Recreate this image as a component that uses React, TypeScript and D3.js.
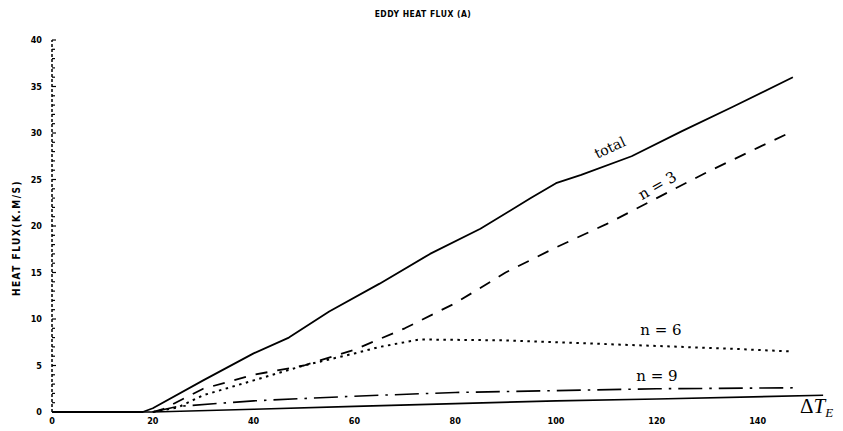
import React from "react";
import * as d3 from "d3";

// Wave-number contributions to the eddy heat flux versus ΔT_E
const totalX = [0, 18, 20, 30, 40, 47, 55, 65, 75, 85, 95, 100, 105, 115, 125, 135, 147];
const totalY = [0, 0, 0.4, 3.4, 6.3, 8.0, 10.8, 13.8, 17.0, 19.7, 23.0, 24.6, 25.5, 27.5, 30.2, 32.8, 36.0];

const n3X = [20, 22, 30, 40, 50, 60, 70, 80, 90, 100, 110, 120, 130, 140, 147];
const n3Y = [0, 0.3, 2.5, 4.0, 5.0, 6.7, 9.0, 11.7, 15.0, 17.7, 20.2, 23.0, 25.8, 28.4, 30.2];

const n6X = [20, 25, 30, 40, 50, 60, 65, 73, 90, 105, 120, 135, 147];
const n6Y = [0, 0.5, 1.8, 3.4, 5.0, 6.3, 7.0, 7.8, 7.7, 7.4, 7.1, 6.8, 6.5];

const n9X = [20, 25, 40, 60, 80, 100, 120, 147];
const n9Y = [0, 0.6, 1.2, 1.7, 2.1, 2.3, 2.5, 2.6];

const baseX = [0, 20, 40, 60, 80, 100, 120, 153];
const baseY = [0, 0, 0.3, 0.6, 0.9, 1.2, 1.4, 1.8];

const xTicks = [0, 20, 40, 60, 80, 100, 120, 140];
const yTicks = [0, 5, 10, 15, 20, 25, 30, 35, 40];

const W = 843;
const H = 431;

const x = d3.scaleLinear().domain([0, 140]).range([52, 757.6]);
const y = d3.scaleLinear().domain([0, 40]).range([412, 40]);

const line = d3
  .line<[number, number]>()
  .x((d) => x(d[0]))
  .y((d) => y(d[1]));

const pts = (xs: number[], ys: number[]) => xs.map((v, i) => [v, ys[i]] as [number, number]);

const tickFont = "'DejaVu Sans Condensed', 'DejaVu Sans', sans-serif";
const labelFont = "'DejaVu Serif', serif";

export default function App() {
  const minor = d3.range(0, 40.01, 1);
  return (
    <svg width={W} height={H} style={{ position: "absolute", left: 0, top: 0, background: "#fff" }}>
      {/* title */}
      <text x={423} y={17} textAnchor="middle" fontFamily={tickFont} fontWeight="bold" fontSize={8.5} letterSpacing={0.5} fill="#000">
        EDDY HEAT FLUX (A)
      </text>

      {/* y axis: dotted spine with unit ticks */}
      <line x1={x(0)} x2={x(0)} y1={y(0)} y2={y(40)} stroke="#000" strokeWidth={1.5} strokeDasharray="3,2" />
      {minor.map((v) => (
        <line key={v} x1={x(0)} x2={x(0) + (v % 5 === 0 ? 4 : 3)} y1={y(v)} y2={y(v)} stroke="#000" strokeWidth={1.2} />
      ))}
      {yTicks.map((v) => (
        <text key={v} x={42} y={y(v) + 3} textAnchor="end" fontFamily={tickFont} fontWeight="bold" fontSize={9} fill="#000">
          {v}
        </text>
      ))}
      {xTicks.map((v) => (
        <text key={v} x={x(v)} y={424} textAnchor="middle" fontFamily={tickFont} fontWeight="bold" fontSize={9} fill="#000">
          {v}
        </text>
      ))}

      <text
        transform={`translate(20,${238}) rotate(-90)`}
        textAnchor="middle"
        fontFamily={tickFont}
        fontWeight="bold"
        fontSize={10}
        letterSpacing={1.5}
        fill="#000"
      >
        HEAT FLUX(K.M/S)
      </text>

      {/* curves */}
      <g fill="none" stroke="#000" strokeLinejoin="round">
        <path d={line(pts(baseX, baseY)) || ""} strokeWidth={1.6} />
        <path d={line(pts(totalX, totalY)) || ""} strokeWidth={1.8} />
        <path d={line(pts(n3X, n3Y)) || ""} strokeWidth={1.8} strokeDasharray="12,10" />
        <path d={line(pts(n6X, n6Y)) || ""} strokeWidth={2} strokeDasharray="2.5,4.5" />
        <path d={line(pts(n9X, n9Y)) || ""} strokeWidth={1.6} strokeDasharray="24,7,2.5,7" />
      </g>

      {/* curve labels */}
      <text transform="translate(612,152) rotate(-25)" textAnchor="middle" fontFamily={labelFont} fontSize={14} fill="#000">
        total
      </text>
      <text transform="translate(660,190) rotate(-30)" textAnchor="middle" fontFamily={labelFont} fontSize={15} fill="#000">
        n = 3
      </text>
      <text x={661} y={335} textAnchor="middle" fontFamily={labelFont} fontSize={15} fill="#000">
        n = 6
      </text>
      <text x={657} y={381} textAnchor="middle" fontFamily={labelFont} fontSize={15} fill="#000">
        n = 9
      </text>

      {/* x-axis variable */}
      <text x={800} y={413} fontFamily="'Liberation Serif', serif" fontSize={21} fill="#000">
        Δ<tspan fontStyle="italic">T</tspan>
        <tspan fontStyle="italic" fontSize={13} dy={4}>E</tspan>
      </text>
    </svg>
  );
}
